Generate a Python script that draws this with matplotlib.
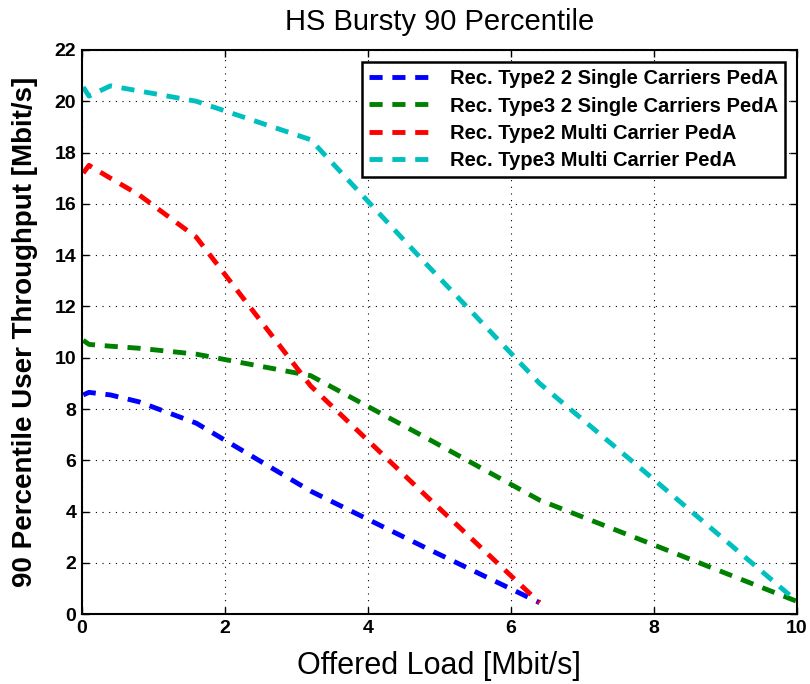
import matplotlib
matplotlib.use("Agg")
import matplotlib.pyplot as plt

plt.rcParams['font.family'] = ['Liberation Sans', 'DejaVu Sans']

title = "HS Bursty 90 Percentile"
xlabel = "Offered Load [Mbit/s]"
ylabel = "90 Percentile User Throughput [Mbit/s]"

labels = ["Rec. Type2 2 Single Carriers PedA",
          "Rec. Type3 2 Single Carriers PedA",
          "Rec. Type2 Multi Carrier PedA",
          "Rec. Type3 Multi Carrier PedA"]
colors = ["#0000ff", "#008000", "#ff0000", "#00bfbf"]

x_t2_sc = [0.02, 0.1, 0.4, 0.8, 1.6, 3.2, 4.8, 6.4]
y_t2_sc = [8.55, 8.65, 8.55, 8.28, 7.45, 4.8, 2.6, 0.45]

x_t3_sc = [0.02, 0.1, 0.4, 0.8, 1.6, 3.2, 4.8, 6.4, 8.0, 10.0]
y_t3_sc = [10.68, 10.52, 10.45, 10.37, 10.14, 9.3, 6.9, 4.45, 2.7, 0.5]

x_t2_mc = [0.02, 0.1, 0.4, 0.8, 1.6, 3.2, 4.8, 6.4]
y_t2_mc = [17.2, 17.5, 17.0, 16.35, 14.7, 8.9, 4.65, 0.45]

x_t3_mc = [0.02, 0.1, 0.4, 1.6, 3.2, 4.8, 6.4, 8.0, 10.0]
y_t3_mc = [20.55, 20.2, 20.6, 20.0, 18.5, 13.7, 9.0, 5.25, 0.5]

series = [(x_t2_sc, y_t2_sc), (x_t3_sc, y_t3_sc), (x_t2_mc, y_t2_mc), (x_t3_mc, y_t3_mc)]

fig = plt.figure(figsize=(8.1, 6.84), dpi=100)
ax = fig.add_axes([0.101, 0.102, 0.883, 0.825])

for (xs, ys), lab, c in zip(series, labels, colors):
    ax.plot(xs, ys, color=c, lw=3.5, dashes=(2.7, 2.0), dash_capstyle='butt', label=lab)

ax.set_xlim(0, 10)
ax.set_ylim(0, 22)
ax.set_xticks(range(0, 11, 2))
ax.set_yticks(range(0, 23, 2))
ax.grid(True, color='black', linestyle=(0, (1, 5)), linewidth=0.8)
ax.tick_params(direction='in', top=True, right=True, length=5, width=1, labelsize=14, pad=4)
for lbl in ax.get_xticklabels() + ax.get_yticklabels():
    lbl.set_fontweight('bold')
for s in ax.spines.values():
    s.set_linewidth(1.5)

ax.set_xlabel(xlabel, fontsize=22, labelpad=10)
ax.set_ylabel(ylabel, fontsize=20, fontweight='bold', labelpad=12)
ax.set_title(title, fontsize=21, pad=14)

leg = ax.legend(loc='upper right', prop={'size': 14.5, 'weight': 'bold'}, frameon=True, fancybox=False,
                edgecolor='black', framealpha=1, handlelength=3.3,
                borderaxespad=0.6, labelspacing=0.42, borderpad=0.35, handletextpad=0.7)
leg.get_frame().set_linewidth(1.8)

fig.savefig("out.png", dpi=100)
